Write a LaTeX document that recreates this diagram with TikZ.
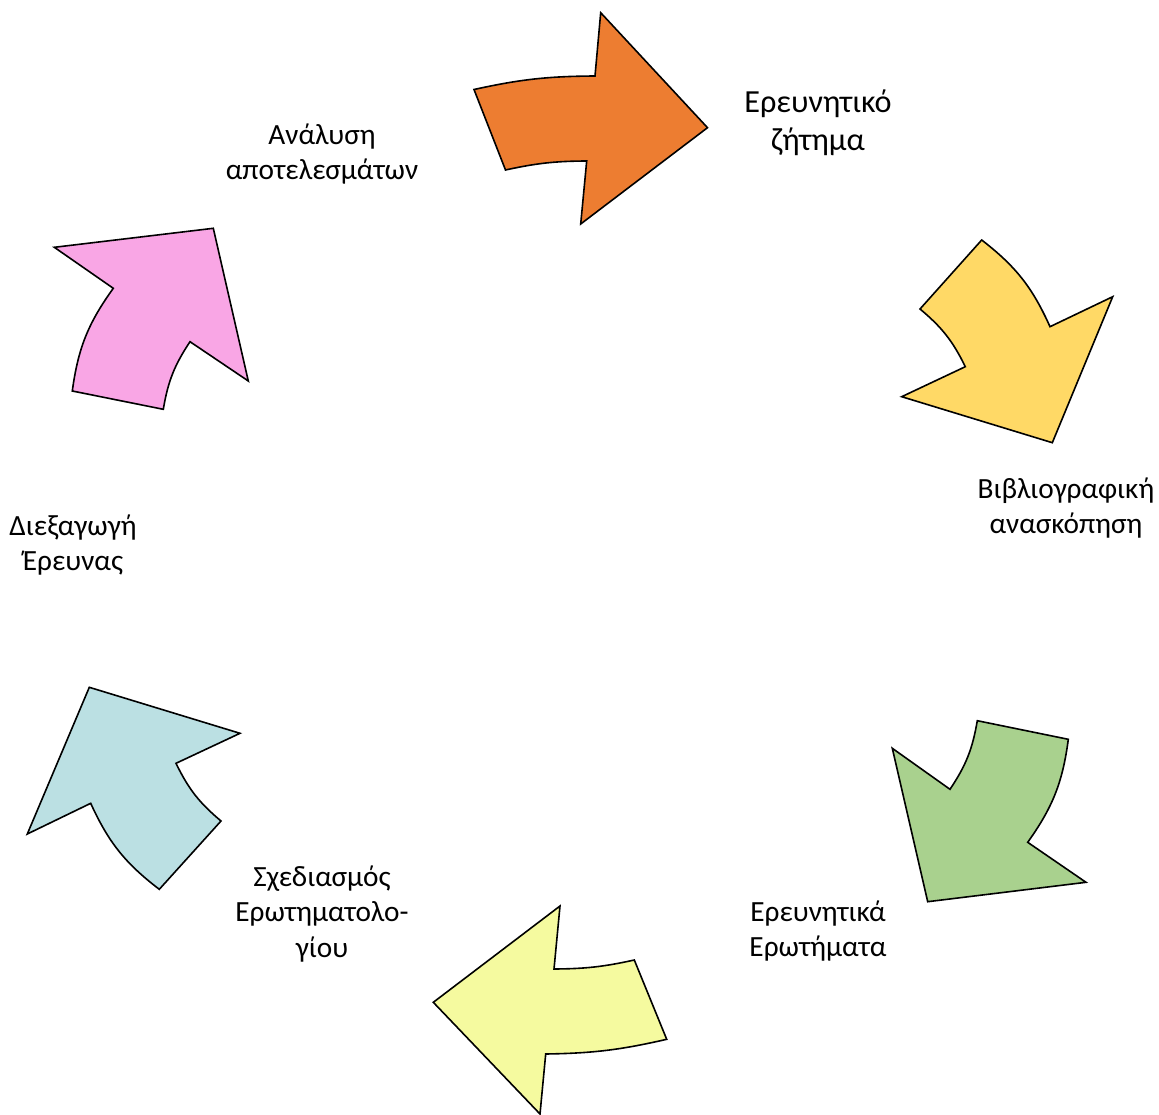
\documentclass[tikz,border=0pt]{standalone}
\usepackage{fontspec}
\setmainfont{Carlito}
\definecolor{cOrange}{HTML}{ED7D31}
\definecolor{cGold}{HTML}{FFD966}
\definecolor{cGreen}{HTML}{A9D18E}
\definecolor{cLemon}{HTML}{F5FA9F}
\definecolor{cTeal}{HTML}{BBE0E3}
\definecolor{cPink}{HTML}{F9A6E5}
\begin{document}
\begin{tikzpicture}[x=1pt,y=-1pt,
  arrowshape/.style={draw=black, line width=1.6pt, line join=miter},
  lbl/.style={align=center, font=\fontsize{29.3}{35.5}\selectfont, inner sep=0pt, text=black},
  lblbig/.style={lbl, font=\fontsize{32.2}{38.5}\selectfont}]
\useasboundingbox (0,0) rectangle (1159,1115);
% orange
\coordinate (A1) at (474,89.5);  \coordinate (A2) at (595,76);
\coordinate (A3) at (600.7,12.7); \coordinate (A4) at (707.5,127.7);
\coordinate (A5) at (580.7,224);  \coordinate (A6) at (586.7,161);
\coordinate (A7) at (505.5,170);
% gold
\coordinate (B1) at (981.7,240);  \coordinate (B2) at (1050,326.7);
\coordinate (B3) at (1112.7,296.7); \coordinate (B4) at (1052.3,442.7);
\coordinate (B5) at (901.7,396.7); \coordinate (B6) at (965.3,366.7);
\coordinate (B7) at (920,309);
% green
\coordinate (C1) at (1068.3,739.3); \coordinate (C2) at (1027.7,842.3);
\coordinate (C3) at (1086,882.3);  \coordinate (C4) at (927.7,901.7);
\coordinate (C5) at (892.3,748.3); \coordinate (C6) at (950,789.3);
\coordinate (C7) at (977.3,720.7);
% lemon
\coordinate (D1) at (666.7,1039.3); \coordinate (D2) at (545.7,1054);
\coordinate (D3) at (540,1114);    \coordinate (D4) at (433.3,1002.3);
\coordinate (D5) at (560,906);     \coordinate (D6) at (554,969);
\coordinate (D7) at (634.3,960);
% teal
\coordinate (E1) at (159.3,889.3); \coordinate (E2) at (90.7,803.3);
\coordinate (E3) at (27.3,834);    \coordinate (E4) at (89.3,687.3);
\coordinate (E5) at (240,733.3);   \coordinate (E6) at (176,763.3);
\coordinate (E7) at (221,821);
% pink
\coordinate (F1) at (72.3,391);    \coordinate (F2) at (113.3,288.3);
\coordinate (F3) at (54.3,247.3);  \coordinate (F4) at (213.3,228.3);
\coordinate (F5) at (248.3,381);   \coordinate (F6) at (190,341.7);
\coordinate (F7) at (163.3,409.3);

\path[arrowshape, fill=cOrange] (A1) to[bend left=6] (A2) -- (A3) -- (A4) -- (A5) -- (A6) to[bend right=6] (A7) -- cycle;
\path[arrowshape, fill=cGold] (B1) to[bend left=14] (B2) -- (B3) -- (B4) -- (B5) -- (B6) to[bend right=12] (B7) -- cycle;
\path[arrowshape, fill=cGreen] (C1) to[bend left=14] (C2) -- (C3) -- (C4) -- (C5) -- (C6) to[bend right=12] (C7) -- cycle;
\path[arrowshape, fill=cLemon] (D1) to[bend left=6] (D2) -- (D3) -- (D4) -- (D5) -- (D6) to[bend right=6] (D7) -- cycle;
\path[arrowshape, fill=cTeal] (E1) to[bend left=14] (E2) -- (E3) -- (E4) -- (E5) -- (E6) to[bend right=12] (E7) -- cycle;
\path[arrowshape, fill=cPink] (F1) to[bend left=14] (F2) -- (F3) -- (F4) -- (F5) -- (F6) to[bend right=12] (F7) -- cycle;

\node[lblbig] (t1) at (818,123) {Ερευνητικό\\ζήτημα};
\node[lbl] (t2) at (1066,508) {Βιβλιογραφική\\ανασκόπηση};
\node[lbl] (t3) at (818,931) {Ερευνητικά\\Ερωτήματα};
\node[lbl] (t4) at (322,914) {Σχεδιασμός\\Ερωτηματολο-\\γίου};
\node[lbl] (t5) at (73,545) {Διεξαγωγή\\Έρευνας};
\node[lbl] (t6) at (322,154) {Ανάλυση\\αποτελεσμάτων};
\end{tikzpicture}
\end{document}
